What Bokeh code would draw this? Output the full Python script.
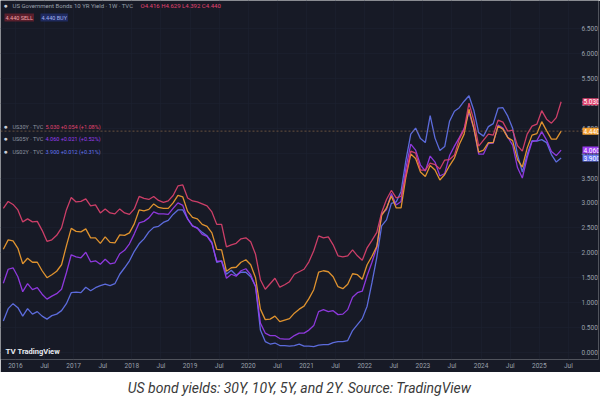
import pandas as pd
from bokeh.plotting import figure
from bokeh.models import Range1d, FixedTicker, Label, Span, ColumnDataSource
from bokeh.layouts import column
from bokeh.embed import file_html
from bokeh.resources import INLINE
from bokeh.core.properties import value

# ---------------- data (monthly, Oct 2015 .. May 2025) ----------------
months = pd.date_range("2015-10-01", "2025-05-01", freq="MS")

us30y = [2.89, 3.03, 2.97,
         2.86, 2.62, 2.68, 2.62, 2.63, 2.45, 2.23, 2.26, 2.35, 2.50, 2.86, 3.11,
         3.02, 3.03, 3.08, 2.94, 2.96, 2.80, 2.88, 2.80, 2.78, 2.88, 2.80, 2.77,
         2.88, 3.13, 3.09, 3.07, 3.13, 3.05, 3.01, 3.04, 3.15, 3.34, 3.36, 3.10,
         3.04, 3.02, 2.98, 2.94, 2.82, 2.57, 2.57, 2.12, 2.16, 2.19, 2.28, 2.30,
         2.22, 1.97, 1.46, 1.27, 1.38, 1.49, 1.31, 1.36, 1.42, 1.57, 1.62, 1.67,
         1.82, 2.04, 2.34, 2.30, 2.32, 2.16, 1.94, 1.92, 1.94, 2.06, 1.94, 1.85,
         2.10, 2.25, 2.41, 2.81, 3.07, 3.25, 3.10, 3.13, 3.56, 4.04, 4.00, 3.66,
         3.66, 3.80, 3.77, 3.68, 3.86, 3.87, 3.96, 4.28, 4.47, 5.00, 4.66, 4.14,
         4.26, 4.38, 4.36, 4.66, 4.62, 4.44, 4.46, 4.15, 4.04, 4.38, 4.54, 4.58,
         4.85, 4.68, 4.60, 4.71, 5.03]

us10y = [2.07, 2.26, 2.24,
         2.09, 1.78, 1.89, 1.81, 1.81, 1.64, 1.50, 1.56, 1.63, 1.76, 2.14, 2.49,
         2.43, 2.42, 2.48, 2.30, 2.30, 2.19, 2.32, 2.21, 2.20, 2.36, 2.35, 2.40,
         2.58, 2.86, 2.84, 2.87, 2.98, 2.91, 2.89, 2.89, 3.00, 3.15, 3.12, 2.83,
         2.71, 2.68, 2.57, 2.53, 2.40, 2.07, 2.06, 1.63, 1.70, 1.71, 1.81, 1.86,
         1.76, 1.50, 0.87, 0.66, 0.67, 0.73, 0.62, 0.65, 0.68, 0.79, 0.87, 0.93,
         1.08, 1.26, 1.61, 1.64, 1.62, 1.52, 1.32, 1.28, 1.37, 1.58, 1.56, 1.47,
         1.76, 1.93, 2.13, 2.75, 2.90, 3.14, 2.90, 2.90, 3.52, 3.98, 3.89, 3.62,
         3.53, 3.75, 3.66, 3.46, 3.57, 3.75, 3.90, 4.17, 4.38, 4.88, 4.50, 4.02,
         4.06, 4.21, 4.21, 4.54, 4.48, 4.31, 4.25, 3.87, 3.72, 4.10, 4.36, 4.39,
         4.63, 4.45, 4.28, 4.28, 4.44]

us05y = [1.39, 1.67, 1.70,
         1.52, 1.22, 1.38, 1.26, 1.30, 1.17, 1.07, 1.13, 1.18, 1.27, 1.60, 1.96,
         1.92, 1.90, 2.01, 1.82, 1.84, 1.77, 1.87, 1.78, 1.80, 1.98, 2.05, 2.18,
         2.38, 2.60, 2.63, 2.70, 2.82, 2.78, 2.78, 2.77, 2.89, 3.00, 2.95, 2.68,
         2.54, 2.49, 2.37, 2.33, 2.19, 1.83, 1.83, 1.49, 1.57, 1.53, 1.64, 1.68,
         1.56, 1.32, 0.59, 0.39, 0.34, 0.34, 0.28, 0.27, 0.27, 0.34, 0.39, 0.39,
         0.45, 0.54, 0.82, 0.86, 0.82, 0.84, 0.76, 0.77, 0.86, 1.11, 1.20, 1.23,
         1.54, 1.81, 2.11, 2.78, 2.87, 3.19, 2.96, 3.03, 3.70, 4.18, 4.06, 3.76,
         3.64, 3.94, 3.82, 3.54, 3.59, 3.95, 4.14, 4.31, 4.49, 4.82, 4.49, 3.98,
         3.98, 4.19, 4.20, 4.56, 4.50, 4.32, 4.16, 3.71, 3.50, 3.91, 4.23, 4.25,
         4.43, 4.26, 4.03, 3.95, 4.06]

us02y = [0.63, 0.88, 0.98,
         0.90, 0.73, 0.88, 0.77, 0.82, 0.73, 0.67, 0.74, 0.77, 0.84, 0.98, 1.20,
         1.21, 1.20, 1.31, 1.24, 1.30, 1.34, 1.37, 1.34, 1.38, 1.57, 1.70, 1.84,
         2.03, 2.18, 2.28, 2.42, 2.51, 2.53, 2.61, 2.65, 2.77, 2.86, 2.86, 2.68,
         2.54, 2.50, 2.41, 2.34, 2.21, 1.81, 1.84, 1.57, 1.65, 1.55, 1.61, 1.61,
         1.52, 1.33, 0.45, 0.22, 0.17, 0.19, 0.14, 0.14, 0.13, 0.14, 0.17, 0.13,
         0.13, 0.12, 0.15, 0.16, 0.16, 0.20, 0.22, 0.22, 0.24, 0.44, 0.56, 0.68,
         0.93, 1.40, 1.91, 2.54, 2.66, 2.99, 3.02, 3.23, 3.86, 4.38, 4.50, 4.29,
         4.21, 4.75, 4.30, 4.05, 4.13, 4.64, 4.84, 4.91, 5.04, 5.15, 4.86, 4.41,
         4.34, 4.53, 4.59, 4.90, 4.91, 4.74, 4.50, 3.97, 3.62, 3.97, 4.25, 4.24,
         4.27, 4.21, 3.97, 3.82, 3.90]

x_tick_values = [2016, 2016.5, 2017, 2017.5, 2018, 2018.5, 2019, 2019.5, 2020, 2020.5,
                 2021, 2021.5, 2022, 2022.5, 2023, 2023.5, 2024, 2024.5, 2025, 2025.5]
x_tick_labels = ["2016", "Jul", "2017", "Jul", "2018", "Jul", "2019", "Jul", "2020", "Jul",
                 "2021", "Jul", "2022", "Jul", "2023", "Jul", "2024", "Jul", "2025", "Jul"]
y_tick_values = [0.0, 0.5, 1.0, 1.5, 2.0, 2.5, 3.0, 3.5, 4.0, 4.5, 5.0, 5.5, 6.0, 6.5]
y_tick_labels = ["0.000", "0.500", "1.000", "1.500", "2.000", "2.500", "3.000",
                 "3.500", "4.000", "4.500", "5.000", "5.500", "6.000", "6.500"]

caption = "US bond yields: 30Y, 10Y, 5Y, and 2Y. Source: TradingView"

# ---------------- styling ----------------
BG = "#171a26"
C30, C10, C05, C02 = "#e0436f", "#f5a030", "#9a3cf0", "#6474f0"
FONT = "Roboto"
W, H_MAIN, H_CAP = 600, 372, 28
BB = 12
FW, FH = W, H_MAIN - BB

t = [d.year + (d.month - 1) / 12 + 1 / 24 for d in months]
src = ColumnDataSource(dict(t=t, y30=us30y, y10=us10y, y05=us05y, y02=us02y))

p = figure(width=W, height=H_MAIN, x_range=Range1d(2015.743, 2026.017),
           y_range=Range1d(-0.14, 7.06), y_axis_location="right",
           output_backend="svg", toolbar_location=None,
           min_border_left=0, min_border_top=0, min_border_right=0, min_border_bottom=BB,
           background_fill_color=BG, border_fill_color=BG, outline_line_color=None)

p.grid.grid_line_color = "#1d2130"
p.grid.grid_line_alpha = 0.6
p.xgrid.ticker = FixedTicker(ticks=x_tick_values)
p.ygrid.ticker = FixedTicker(ticks=y_tick_values)

for ax in (p.xaxis[0], p.yaxis[0]):
    ax.axis_line_color = None
    ax.major_tick_line_color = None
    ax.minor_tick_line_color = None
    ax.major_tick_out = 0
    ax.major_tick_in = 0
    ax.minor_tick_out = 0
    ax.minor_tick_in = 0
    ax.major_label_text_color = "#9aa0ab"
    ax.major_label_text_font = FONT
    ax.major_label_text_font_size = "6.5px"

p.xaxis.major_label_standoff = 2
p.yaxis.major_label_standoff = -17   # price labels sit inside the price-scale column

p.xaxis.ticker = FixedTicker(ticks=x_tick_values)
p.xaxis.major_label_overrides = dict(zip(x_tick_values, x_tick_labels))
p.yaxis.ticker = FixedTicker(ticks=y_tick_values)
p.yaxis.major_label_overrides = dict(zip(y_tick_values, y_tick_labels))

for col, c in (("y02", C02), ("y05", C05), ("y10", C10), ("y30", C30)):
    p.line("t", col, source=src, line_color=c, line_width=1.3, line_alpha=0.9)

# last-price line of the main symbol (10Y)
p.add_layout(Span(location=us10y[-1], dimension="width", line_color="#8c6a48",
                  line_alpha=0.7, line_width=1, line_dash="2 2"))


def sx(X):
    return X


def sy(Y):
    return FH - Y


def tag(X, Y, text, color, size="6px", bold=False, bg=None):
    lab = Label(x=sx(X), y=sy(Y), x_units="screen", y_units="screen", text=text,
                text_color=color, text_font=FONT, text_font_size=size,
                text_baseline="middle", text_font_style="bold" if bold else "normal")
    if bg is not None:
        lab.background_fill_color = bg
        lab.padding = 1
    p.add_layout(lab)


# legend (top-left)
tag(3, 6, "●", "#c8ccd6", "7px")
tag(12, 6, "US Government Bonds 10 YR Yield · 1W · TVC", "#9aa0ab")
tag(140, 6, "O4.416  H4.629  L4.392  C4.440", C30)
tag(4, 18, "4.440 SELL", "#f0a0a8", "5.5px", bg="#5a1f2c")
tag(40, 18, "4.440 BUY", "#a0b0f0", "5.5px", bg="#1f2a5e")

rows = [(127, "US30Y · TVC", "5.030  +0.054 (+1.08%)", C30),
        (139, "US05Y · TVC", "4.060  +0.021 (+0.52%)", C05),
        (152, "US02Y · TVC", "3.900  +0.012 (+0.31%)", C02)]
for Y, name, val, c in rows:
    tag(3, Y, "●", "#c8ccd6", "7px")
    tag(12, Y, name, "#8f95a1", "5.5px")
    tag(45, Y, val, c, "5.5px")

# TradingView logo
tag(5, 352, "TV", "#e8eaf0", "8px", bold=True)
tag(17, 352, "TradingView", "#e8eaf0", "7.5px", bold=True)

# last-value badges on the price scale
for last, c in ((us02y[-1], C02), (us05y[-1], C05), (us10y[-1], C10), (us30y[-1], C30)):
    p.add_layout(Label(x=FW - 18, y=last, x_units="screen", y_units="data",
                       text=f"{last:.3f}", text_color="white", text_font=FONT,
                       text_font_size="6.5px", text_baseline="middle",
                       background_fill_color=c, padding=1))

# ---------------- caption ----------------
cap = figure(width=W, height=H_CAP, x_range=Range1d(0, 1), y_range=Range1d(0, 1),
             x_axis_type=None, y_axis_type=None, output_backend="svg",
             toolbar_location=None, min_border=0, outline_line_color=None,
             background_fill_color="white", border_fill_color="white")
cap.grid.visible = False
cap.text(x=[0.5], y=[0.46], text=[caption], text_align="center",
         text_baseline="middle", text_font=value(FONT), text_font_style="italic",
         text_font_size="14px", text_color="#3a3a3a")

layout = column(p, cap, spacing=0)
open("out.html", "w").write(file_html(layout, INLINE))
